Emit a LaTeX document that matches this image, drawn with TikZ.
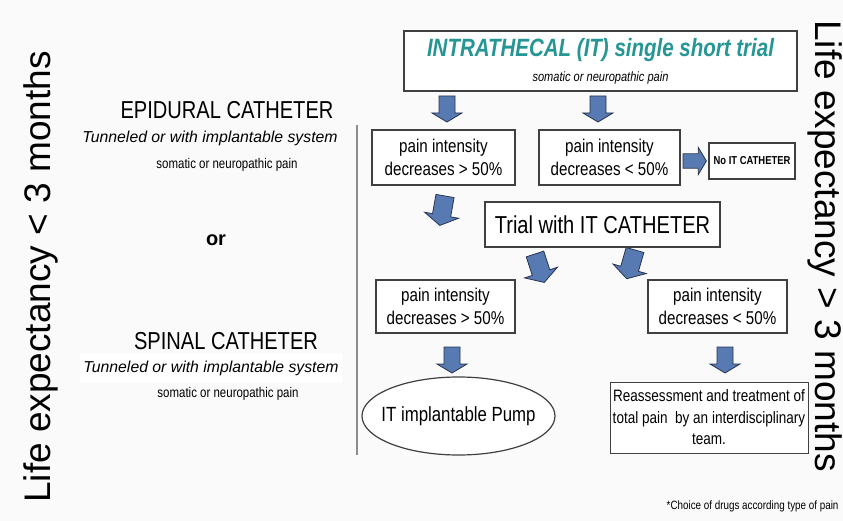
\documentclass[tikz,border=0pt]{standalone}
\usepackage{fontspec}
\setmainfont{Liberation Sans}
\newfontfamily\narrowfont[FakeStretch=0.82]{Liberation Sans}
\usetikzlibrary{shapes.geometric}
\definecolor{tealtitle}{RGB}{38,150,148}
\definecolor{arrowblue}{RGB}{88,122,178}
\definecolor{arrowline}{RGB}{40,52,80}
\newcommand{\fsz}[2]{\fontsize{#1}{#2}\selectfont}

\begin{document}
\begin{tikzpicture}[
    x=1pt, y=-1pt,
    plainbox/.style={draw=black!75, line width=1.2pt, fill=white, align=center, inner sep=0pt, font=\narrowfont\fsz{18.5}{23}},
    sidetext/.style={font=\fsz{37}{40}},
    cathlabel/.style={font=\narrowfont\fsz{24.5}{28}},
    tunnel/.style={font=\itshape\fsz{15.8}{18}},
    painnote/.style={font=\narrowfont\fsz{14}{16}},
    blockarrow/.pic={\filldraw[fill=arrowblue, draw=arrowline, line width=0.8pt]
        (0,-8) -- (17,-8) -- (17,-15) -- (26,0) -- (17,15) -- (17,8) -- (0,8) -- cycle;}
]
    \useasboundingbox[fill=black!2] (0,0) rectangle (843,521);

    % Life expectancy
    \node[sidetext, rotate=90] (shortlife) at (41,277) {Life expectancy < 3 months};
    \node[sidetext, rotate=-90] (longlife) at (825,246) {Life expectancy > 3 months};

    % Left column
    \node[cathlabel] (epidural) at (227,110) {EPIDURAL CATHETER};
    \node[tunnel] (tunnelA) at (210,138) {Tunneled or with implantable system};
    \node[painnote] (painA) at (227,165) {somatic or neuropathic pain};
    \node[font=\bfseries\fsz{20}{24}] (or) at (216,240) {or};
    \node[cathlabel] (spinal) at (226,341) {SPINAL CATHETER};
    \node[tunnel, fill=white, inner xsep=3pt, inner ysep=8pt] (tunnelB) at (211,368) {Tunneled or with implantable system};
    \node[painnote] (painB) at (228,394) {somatic or neuropathic pain};
    \draw[black!45, line width=1.5pt] (357,125) -- (357,455);

    % Intrathecal trial
    \node[plainbox, minimum width=393, minimum height=60] (intra) at (600.5,61)
        {{\narrowfont\bfseries\itshape\color{tealtitle}\fsz{25}{27}INTRATHECAL (IT) single short trial}\\[2pt]
         {\narrowfont\itshape\fsz{13.5}{15}somatic or neuropathic pain}};
    \node[plainbox, minimum width=143, minimum height=55] (firstgood) at (443.5,157.5) {pain intensity\\decreases > 50\%};
    \node[plainbox, minimum width=141, minimum height=55] (firstpoor) at (609.5,157.5) {pain intensity\\decreases < 50\%};
    \node[plainbox, minimum width=86, minimum height=36, font=\narrowfont\bfseries\fsz{11.5}{14}] (noit) at (752,161) {No IT CATHETER};
    \node[plainbox, line width=2.5pt, minimum width=235, minimum height=45, font=\narrowfont\fsz{24.5}{28}] (trial) at (602.5,224.5) {Trial with IT CATHETER};
    \node[plainbox, minimum width=139, minimum height=53] (secondgood) at (445.5,306.5) {pain intensity\\decreases > 50\%};
    \node[plainbox, minimum width=139, minimum height=53] (secondpoor) at (717.5,306.5) {pain intensity\\decreases < 50\%};
    \node[plainbox, ellipse, minimum width=193, minimum height=78] (pump) at (458.5,416) {};
    \node[font=\narrowfont\fsz{20.5}{24}] (pumplabel) at (pump.center) {IT implantable Pump};
    \node[plainbox, line width=1pt, minimum width=198, minimum height=71, font=\narrowfont\fsz{16.5}{21.5}] (reassess) at (709,417.5)
        {Reassessment and treatment of\\total pain\ \ by an interdisciplinary\\team.};

    % Block arrows
    \pic[rotate=-90] at (447,96) {blockarrow};
    \pic[rotate=-90] at (598,96) {blockarrow};
    \pic[scale=0.9] at (683,161) {blockarrow};
    \pic[rotate=-100, scale=1.15] at (445,196) {blockarrow};
    \pic[rotate=-72, scale=1.15] at (535,254) {blockarrow};
    \pic[rotate=-106, scale=1.15] at (635,250) {blockarrow};
    \pic[rotate=-90] at (452,347) {blockarrow};
    \pic[rotate=-90] at (725,347) {blockarrow};

    % Footnote
    \node[anchor=east, font=\narrowfont\fsz{12}{14}] (drugnote) at (842,506) {*Choice of drugs according type of pain};
\end{tikzpicture}
\end{document}
